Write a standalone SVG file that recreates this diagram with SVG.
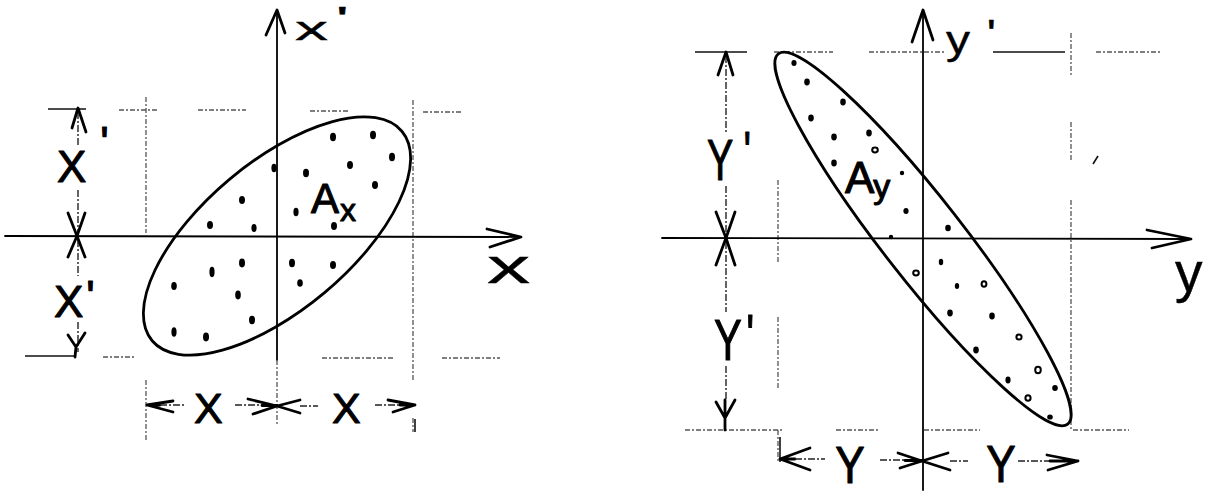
<svg xmlns="http://www.w3.org/2000/svg" width="1208" height="492" viewBox="0 0 1208 492">
<style>
.ax{stroke:#000;stroke-width:1.8;fill:none;stroke-linecap:round}
.ah{stroke:#000;stroke-width:2.8;fill:none;stroke-linecap:round;stroke-linejoin:round}
.grid{stroke:#555;stroke-width:1.3;stroke-dasharray:5 2 2 2;fill:none}
.solid{stroke:#111;stroke-width:1.6;fill:none}
.dim{stroke:#222;stroke-width:1.4;stroke-dasharray:7 2 2 2;fill:none}
.ell{stroke:#000;stroke-width:2.8;fill:none}
.dot{fill:#000}
.odot{fill:none;stroke:#000;stroke-width:2}
.lab{font-family:"Liberation Sans",Arial,sans-serif;fill:#000;stroke:#000;stroke-width:1.1;stroke-linejoin:round}
.thin{stroke-width:0.4}
</style>
<rect width="1208" height="492" fill="#fff"/>

<g id="left-panel">
  <g id="left-grid">
    <path class="solid" d="M48 109H86"/>
    <path class="grid" d="M119 110H158M198 110H246M310 111H350M423 112H462"/>
    <path class="grid" d="M146 97V233M146 380V442"/>
    <path class="grid" d="M413 100V380M413 418V432"/>
    <path class="solid" d="M25 356H76"/>
    <path class="grid" d="M103 357H135M322 358H395M442 358H500"/>
  </g>
  <g id="left-axes">
    <path class="ax" d="M277 10V360"/>
    <path class="grid" d="M277 360V425"/>
    <path class="ah" d="M266 35L277 10L285 33"/>
    <path class="ax" d="M5 236L521 237"/>
    <path class="ah" d="M487 229L521 237L490 247"/>
    <text class="lab thin" font-size="33" transform="translate(295,40) scale(2,1)">x<tspan dx="4" dy="-10">'</tspan></text>
    <text class="lab thin" font-size="48" transform="translate(487,283) scale(1.8,1)">x</text>
  </g>
  <g id="left-ellipse">
    <ellipse class="ell" cx="277" cy="236" rx="163" ry="74" transform="rotate(-40 277 236)"/>
    <g class="dot">
      <ellipse cx="333" cy="137" rx="3" ry="4.2"/>
      <ellipse cx="373" cy="135" rx="3" ry="4.2"/>
      <ellipse cx="392" cy="157" rx="3" ry="4.2"/>
      <ellipse cx="350" cy="165" rx="3" ry="4"/>
      <ellipse cx="306" cy="173" rx="3" ry="4.2"/>
      <ellipse cx="274" cy="168" rx="2.6" ry="4.2"/>
      <ellipse cx="375" cy="185" rx="3" ry="4"/>
      <ellipse cx="242" cy="200" rx="3" ry="4"/>
      <ellipse cx="296" cy="212" rx="2.6" ry="4.2"/>
      <ellipse cx="210" cy="225" rx="3" ry="4"/>
      <ellipse cx="254" cy="228" rx="2.6" ry="4"/>
      <ellipse cx="334" cy="226" rx="3" ry="4"/>
      <ellipse cx="242" cy="263" rx="3" ry="4.4"/>
      <ellipse cx="292" cy="263" rx="3" ry="4.2"/>
      <ellipse cx="333" cy="265" rx="3" ry="4"/>
      <ellipse cx="212" cy="272" rx="2.6" ry="5.2"/>
      <ellipse cx="300" cy="283" rx="2.8" ry="3.8"/>
      <ellipse cx="174" cy="286" rx="2.8" ry="4"/>
      <ellipse cx="238" cy="295" rx="2.8" ry="4.4"/>
      <ellipse cx="252" cy="320" rx="3" ry="4.2"/>
      <ellipse cx="174" cy="332" rx="2.6" ry="4.8"/>
      <ellipse cx="206" cy="337" rx="3" ry="4.4"/>
    </g>
    <text class="lab" font-size="42" x="311" y="213">A<tspan font-size="32" dx="1" dy="8">x</tspan></text>
  </g>
  <g id="left-dim-vertical">
    <path class="dim" d="M78 112V146M78 190V234M78 240V276M78 322V352"/>
    <path class="ah" d="M72 128L78 108L86 132"/>
    <path class="ah" d="M68 213L77 236L85 213M68 257L77 236L85 257"/>
    <path class="ah" d="M68 335L76 347L85 333M76 347L75 357"/>
    <text class="lab" font-size="44" x="57" y="182">X<tspan dx="14" dy="-24">'</tspan></text>
    <text class="lab" font-size="44" x="54" y="317">X<tspan dx="3" dy="-5">'</tspan></text>
  </g>
  <g id="left-dim-horizontal">
    <path class="ah" d="M173 401L147 405L173 412M147 405H160"/>
    <path class="dim" d="M160 405H186M235 405H262M300 406H318M375 405H400"/>
    <path class="ah" d="M248 399L277 406L253 414M262 405.5H277"/>
    <path class="ah" d="M300 400L277 406L300 413"/>
    <path class="ah" d="M388 400L415 405L393 412M400 405H415"/>
    <path class="solid" d="M415 419V432"/>
    <text class="lab" font-size="43" x="194" y="423">X</text>
    <text class="lab" font-size="43" x="332" y="423">X</text>
  </g>
</g>

<g id="right-panel">
  <g id="right-grid">
    <path class="solid" d="M695 52H747M993 52H1065"/>
    <path class="grid" d="M774 52H833M869 52H945M1096 52H1162"/>
    <path class="grid" d="M1071 33V77M1071 122V160M1071 200V430"/>
    <path class="grid" d="M778 180V263M778 317V390M778 430V462"/>
    <path class="grid" d="M685 430H782M836 430H879M924 430H980M1073 430H1129"/>
    <path class="solid" d="M1093 164L1098 156"/>
  </g>
  <g id="right-axes">
    <path class="ax" d="M923 10V490"/>
    <path class="ah" d="M912 42L923 10L933 40"/>
    <path class="ax" d="M662 238L1191 239"/>
    <path class="ah" d="M1147 230L1191 239L1152 248"/>
    <text class="lab thin" font-size="40" transform="translate(946,54) scale(1.2,1)">y<tspan dx="14" dy="-6">'</tspan></text>
    <text class="lab thin" font-size="55" x="1175" y="291">y</text>
  </g>
  <g id="right-ellipse">
    <ellipse class="ell" cx="923" cy="239" rx="235" ry="40" transform="rotate(52 923 239)"/>
    <g class="dot">
      <ellipse cx="794" cy="63" rx="2.6" ry="3"/>
      <ellipse cx="807" cy="82" rx="2.8" ry="3.4"/>
      <ellipse cx="843" cy="102" rx="2.8" ry="3.4"/>
      <ellipse cx="811" cy="118" rx="2.8" ry="3.4"/>
      <ellipse cx="834" cy="137" rx="2.8" ry="3.4"/>
      <ellipse cx="869" cy="133" rx="2.8" ry="3.4"/>
      <ellipse cx="834" cy="163" rx="2.8" ry="3.4"/>
      <ellipse cx="902" cy="173" rx="2.2" ry="2.2"/>
      <ellipse cx="906" cy="211" rx="2.6" ry="3"/>
      <ellipse cx="948" cy="228" rx="2.8" ry="3.2"/>
      <ellipse cx="891" cy="237" rx="2.2" ry="2.2"/>
      <ellipse cx="941" cy="262" rx="2.2" ry="3.2"/>
      <ellipse cx="957" cy="286" rx="2.2" ry="3"/>
      <ellipse cx="950" cy="313" rx="2.8" ry="3.4"/>
      <ellipse cx="992" cy="316" rx="2.8" ry="3.4"/>
      <ellipse cx="976" cy="350" rx="2.8" ry="3.4"/>
      <ellipse cx="1008" cy="380" rx="2.6" ry="3.4"/>
      <ellipse cx="1055" cy="388" rx="2.8" ry="3"/>
      <ellipse cx="1050" cy="417" rx="2.8" ry="2.6"/>
    </g>
    <g class="odot">
      <ellipse cx="875" cy="150" rx="2.8" ry="2.4"/>
      <ellipse cx="916" cy="273" rx="2.8" ry="2.4"/>
      <ellipse cx="984" cy="284" rx="2.4" ry="2.8"/>
      <ellipse cx="1019" cy="337" rx="2.6" ry="2.6"/>
      <ellipse cx="1038" cy="370" rx="2.8" ry="3.2"/>
      <ellipse cx="1028" cy="398" rx="2.6" ry="2.8"/>
    </g>
    <text class="lab" font-size="44" x="845" y="193">A<tspan font-size="34" dx="-1" dy="5">y</tspan></text>
  </g>
  <g id="right-dim-vertical">
    <path class="dim" d="M726 56V134M726 186V236M726 242V312M726 366V400"/>
    <path class="ah" d="M718 75L726 52L733 75"/>
    <path class="ah" d="M716 212L726 238L735 212M716 265L726 238L735 265"/>
    <path class="ah" d="M716 402L725 418L735 400M725 400V430"/>
    <text class="lab" font-size="58" transform="translate(707,180) scale(0.68,1)">Y<tspan dx="15" dy="-8">'</tspan></text>
    <text class="lab" font-size="58" transform="translate(714,360) scale(0.72,1)">Y<tspan dx="6" dy="-5">'</tspan></text>
  </g>
  <g id="right-dim-horizontal">
    <path class="solid" d="M780 437V462"/>
    <path class="ah" d="M810 448L780 459L810 470M780 459H795"/>
    <path class="dim" d="M795 459H825M880 460H905M950 461H968M1018 461H1050"/>
    <path class="ah" d="M898 453L922 461L900 468M905 460.5H922"/>
    <path class="ah" d="M948 453L922 461L950 470"/>
    <path class="ah" d="M1047 455L1078 461L1048 470M1050 461H1078"/>
    <text class="lab" font-size="52" text-anchor="middle" transform="translate(850,483) scale(0.85,1)">Y</text>
    <text class="lab" font-size="52" text-anchor="middle" transform="translate(1001,482) scale(0.85,1)">Y</text>
  </g>
</g>
</svg>
